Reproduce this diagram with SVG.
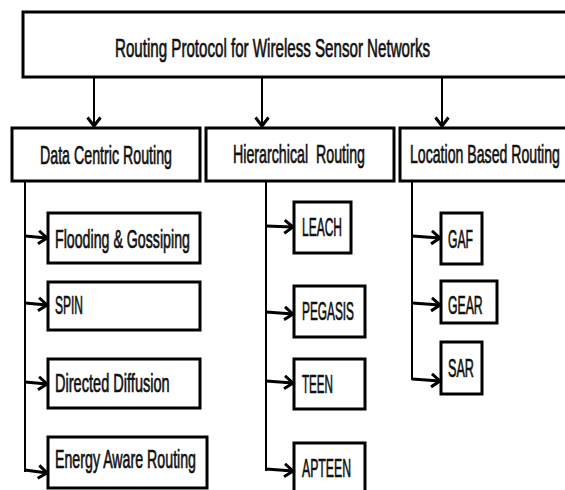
<svg xmlns="http://www.w3.org/2000/svg" width="565" height="490" viewBox="0 0 565 490">
<style>
.box{fill:#fff;stroke:#000;stroke-width:3}
.t{font-family:"Liberation Sans",Arial,sans-serif;font-size:25px;fill:#111;stroke:#111;stroke-width:0.7}
.trunk{stroke:#000;stroke-width:2;fill:none}
.br{stroke:#000;stroke-width:3;fill:none;marker-end:url(#ah)}
.down{stroke:#000;stroke-width:2;fill:none;marker-end:url(#ah)}
</style>
<defs>
<marker id="ah" markerUnits="userSpaceOnUse" markerWidth="13" markerHeight="16" refX="10" refY="8" orient="auto">
<path d="M1.5,1.5 L10,8 L1.5,14.5" fill="none" stroke="#000" stroke-width="3"/>
</marker>
</defs>
<rect width="565" height="490" fill="#fff"/>
<g id="root"><rect class="box" x="23" y="12" width="560" height="65"/><text class="t" transform="translate(115,57) scale(0.605,1)">Routing Protocol for Wireless Sensor Networks</text></g>
<g id="data-centric"><rect class="box" x="12" y="128" width="188" height="53"/><text class="t" transform="translate(40,164) scale(0.569,1)">Data Centric Routing</text></g>
<g id="hierarchical"><rect class="box" x="206" y="128" width="188" height="53"/><text class="t" transform="translate(233,163) scale(0.569,1)" xml:space="preserve">Hierarchical  Routing</text></g>
<g id="location"><rect class="box" x="400" y="128" width="170" height="53"/><text class="t" transform="translate(410,163) scale(0.565,1)">Location Based Routing</text></g>
<g id="flooding"><rect class="box" x="48" y="213" width="152" height="50"/><text class="t" transform="translate(55,248) scale(0.568,1)">Flooding &amp; Gossiping</text></g>
<g id="spin"><rect class="box" x="48" y="282" width="152" height="48"/><text class="t" transform="translate(55,314) scale(0.48,1)">SPIN</text></g>
<g id="directed"><rect class="box" x="48" y="359" width="152" height="49"/><text class="t" transform="translate(55,392) scale(0.583,1)">Directed Diffusion</text></g>
<g id="energy"><rect class="box" x="48" y="437" width="159" height="51"/><text class="t" transform="translate(55,468) scale(0.568,1)">Energy Aware Routing</text></g>
<g id="leach"><rect class="box" x="294" y="202" width="57" height="51"/><text class="t" transform="translate(302,236) scale(0.48,1)">LEACH</text></g>
<g id="pegasis"><rect class="box" x="294" y="286" width="71" height="51"/><text class="t" transform="translate(302,320) scale(0.474,1)">PEGASIS</text></g>
<g id="teen"><rect class="box" x="294" y="359" width="71" height="50"/><text class="t" transform="translate(302,393) scale(0.465,1)">TEEN</text></g>
<g id="apteen"><rect class="box" x="294" y="443" width="71" height="55"/><text class="t" transform="translate(302,477) scale(0.49,1)">APTEEN</text></g>
<g id="gaf"><rect class="box" x="441" y="213" width="41" height="51"/><text class="t" transform="translate(448,248) scale(0.486,1)">GAF</text></g>
<g id="gear"><rect class="box" x="441" y="281" width="56" height="42"/><text class="t" transform="translate(448,314) scale(0.49,1)">GEAR</text></g>
<g id="sar"><rect class="box" x="441" y="342" width="41" height="52"/><text class="t" transform="translate(448,377) scale(0.506,1)">SAR</text></g>
<g id="connectors">
<path class="down" d="M94,77 V126"/>
<path class="down" d="M262,77 V126"/>
<path class="down" d="M442,77 V126"/>
<path class="trunk" d="M25,181 V472"/>
<path class="br" d="M25,236 L47,238"/>
<path class="br" d="M25,303 L47,305"/>
<path class="br" d="M25,382 L47,384"/>
<path class="br" d="M25,470 L47,473"/>
<path class="trunk" d="M266,181 V471"/>
<path class="br" d="M266,226 L293,227"/>
<path class="br" d="M266,312 L293,314"/>
<path class="br" d="M266,381 L293,383"/>
<path class="br" d="M266,469 L293,471"/>
<path class="trunk" d="M412,181 V380"/>
<path class="br" d="M412,236 L440,238"/>
<path class="br" d="M412,303 L440,305"/>
<path class="br" d="M412,379 L440,381"/>
</g>
</svg>
